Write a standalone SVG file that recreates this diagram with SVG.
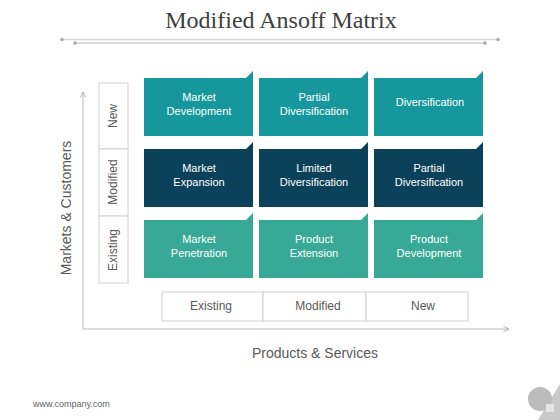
<svg xmlns="http://www.w3.org/2000/svg" width="560" height="420" viewBox="0 0 560 420">
<defs>
<style>
.t{font-family:"Liberation Sans",Arial,sans-serif;font-size:11px;fill:#fff;text-anchor:middle}
.l{font-family:"Liberation Sans",Arial,sans-serif;font-size:12px;fill:#595959;text-anchor:middle}
.ax{font-family:"Liberation Sans",Arial,sans-serif;font-size:14px;fill:#595959;text-anchor:middle}
.box{fill:#fff;stroke:#d0d0d0;stroke-width:1}
.r1{fill:#16979c}.r2{fill:#0c4259}.r3{fill:#38a996}
</style>
<marker id="arr" viewBox="0 0 10 10" refX="9" refY="5" markerWidth="7" markerHeight="7" orient="auto" markerUnits="userSpaceOnUse">
<path d="M1,1 L9,5 L1,9" fill="none" stroke="#aaa" stroke-width="1.2"/>
</marker>
<path id="tile" d="M0,0 H102 L109,-7 V58 H0 Z"/>
</defs>
<rect width="560" height="420" fill="#fff"/>
<g id="title">
<text x="281" y="28" font-family="'Liberation Serif',serif" font-size="24" fill="#404040" text-anchor="middle">Modified Ansoff Matrix</text>
<line x1="62" y1="39.5" x2="498" y2="39.5" stroke="#d6d6d6" stroke-width="1.5"/>
<line x1="75" y1="43" x2="485" y2="43" stroke="#b8b8b8" stroke-width="1"/>
<circle cx="62" cy="39.5" r="1.8" fill="#aaa"/><circle cx="498" cy="39.5" r="1.8" fill="#aaa"/>
<circle cx="75" cy="43" r="1.8" fill="#aaa"/><circle cx="485" cy="43" r="1.8" fill="#aaa"/>
</g>
<g id="connectors">
<line x1="83" y1="329" x2="83" y2="92" stroke="#bbb" stroke-width="1" marker-end="url(#arr)"/>
<line x1="83" y1="329" x2="509" y2="329" stroke="#bbb" stroke-width="1" marker-end="url(#arr)"/>
</g>
<g id="axis-y-label"><text class="ax" transform="translate(71,208) rotate(-90)">Markets &amp; Customers</text></g>
<g id="axis-x-label"><text class="ax" x="315" y="358">Products &amp; Services</text></g>
<g id="row-labels">
<rect class="box" x="99" y="83" width="29" height="66"/>
<rect class="box" x="99" y="149" width="29" height="67"/>
<rect class="box" x="99" y="216" width="29" height="67"/>
<text class="l" transform="translate(117,116) rotate(-90)">New</text>
<text class="l" transform="translate(117,182) rotate(-90)">Modified</text>
<text class="l" transform="translate(117,250) rotate(-90)">Existing</text>
</g>
<g id="col-labels">
<rect class="box" x="162" y="292" width="101" height="29"/>
<rect class="box" x="263" y="292" width="103" height="29"/>
<rect class="box" x="366" y="292" width="102" height="29"/>
<text class="l" x="211" y="310">Existing</text>
<text class="l" x="318" y="310">Modified</text>
<text class="l" x="423" y="310">New</text>
</g>
<g id="n-market-development"><use href="#tile" class="r1" x="144" y="78"/><text class="t" x="199" y="101">Market</text><text class="t" x="199" y="115">Development</text></g>
<g id="n-partial-diversification-1"><use href="#tile" class="r1" x="259" y="78"/><text class="t" x="314" y="101">Partial</text><text class="t" x="314" y="115">Diversification</text></g>
<g id="n-diversification"><use href="#tile" class="r1" x="374" y="78"/><text class="t" x="430" y="106">Diversification</text></g>
<g id="n-market-expansion"><use href="#tile" class="r2" x="144" y="149"/><text class="t" x="199" y="172">Market</text><text class="t" x="199" y="186">Expansion</text></g>
<g id="n-limited-diversification"><use href="#tile" class="r2" x="259" y="149"/><text class="t" x="314" y="172">Limited</text><text class="t" x="314" y="186">Diversification</text></g>
<g id="n-partial-diversification-2"><use href="#tile" class="r2" x="374" y="149"/><text class="t" x="429" y="172">Partial</text><text class="t" x="429" y="186">Diversification</text></g>
<g id="n-market-penetration"><use href="#tile" class="r3" x="144" y="220"/><text class="t" x="199" y="243">Market</text><text class="t" x="199" y="257">Penetration</text></g>
<g id="n-product-extension"><use href="#tile" class="r3" x="259" y="220"/><text class="t" x="314" y="243">Product</text><text class="t" x="314" y="257">Extension</text></g>
<g id="n-product-development"><use href="#tile" class="r3" x="374" y="220"/><text class="t" x="429" y="243">Product</text><text class="t" x="429" y="257">Development</text></g>
<g id="footer">
<text x="33" y="407" font-family="'Liberation Sans',Arial,sans-serif" font-size="9" fill="#666">www.company.com</text>
<polygon points="560,384 560,420 538,420" fill="#c9c9c9"/>
<circle cx="540" cy="399" r="12" fill="#bcbcbc"/>
<rect x="546" y="404" width="8" height="8" fill="#e4e4e4"/>
</g>
</svg>
